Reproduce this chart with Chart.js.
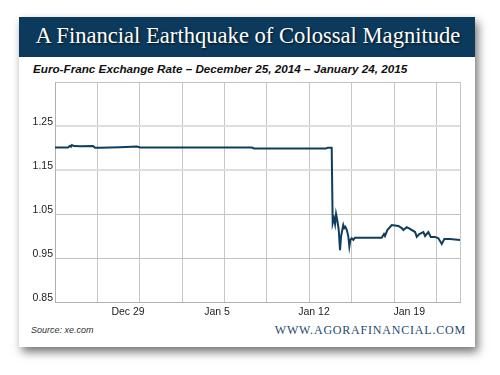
<!DOCTYPE html>
<html>
<head>
<meta charset="utf-8">
<script src="https://cdn.jsdelivr.net/npm/chart.js@4"></script>
<style>
    html, body { margin: 0; padding: 0; background: #fff; }
    #page { position: relative; width: 500px; height: 375px; overflow: hidden; }
    #card {
        position: absolute; left: 19px; top: 17px; width: 456px; height: 330px;
        background: #fff; box-shadow: 3px 5px 9px rgba(0, 0, 0, 0.55);
    }
    #banner {
        position: absolute; left: 0; top: 0; width: 456px; height: 40px; background: #0c3a5c;
    }
    #title {
        position: absolute; left: 1px; width: 456px; top: 8.2px; text-align: center;
        font: 22.6px/22px 'Liberation Serif', serif; color: #fff;
        text-shadow: 1px 1px 2px rgba(0, 0, 0, 0.7);
    }
    #subtitle {
        position: absolute; left: 14px; top: 46px; white-space: nowrap;
        font: italic bold 11.7px/12px 'Liberation Sans', sans-serif; color: #111;
    }
    #source {
        position: absolute; left: 12px; top: 307.5px; white-space: nowrap;
        font: italic 9px/10px 'Liberation Sans', sans-serif; color: #333;
    }
    #site {
        position: absolute; right: 9px; top: 306.5px; white-space: nowrap;
        font: 12px/12px 'Liberation Serif', serif; letter-spacing: 0.8px; color: #1b4a70;
    }
    #chart { position: absolute; left: 0; top: 0; }
</style>
</head>
<body>
<div id="page">
    <div id="card">
        <div id="banner"></div>
        <div id="title">A Financial Earthquake of Colossal Magnitude</div>
        <div id="subtitle">Euro-Franc Exchange Rate – December 25, 2014 – January 24, 2015</div>
        <div id="source">Source: xe.com</div>
        <div id="site">WWW.AGORAFINANCIAL.COM</div>
    </div>
    <canvas id="chart" width="500" height="375"></canvas>
</div>
<script>
// days since Dec 25, 2014
const days = [
    0, 0.92, 1.06, 1.13, 1.2, 1.34, 1.77, 2.69, 2.83, 3.18, 4.6, 5.8, 6.02, 8.85,
    13.94, 14.08, 19.18, 19.32, 19.58,
    19.65, 19.74, 19.82, 19.89, 19.98, 20.08, 20.17, 20.24, 20.33, 20.4, 20.47, 20.55,
    20.65, 20.76, 20.83, 20.9, 21.0, 21.11, 21.23,
    23.12, 23.28, 23.35, 23.52, 23.83, 24.3, 24.54, 24.65, 24.89, 25.12, 25.48, 25.6,
    25.78, 26.07, 26.19, 26.42, 26.59, 26.89, 27.13, 27.37, 27.55, 27.95, 28.66
];
const eurChf = [
    1.2011, 1.2011, 1.205, 1.203, 1.2068, 1.2045, 1.204, 1.2045, 1.2005, 1.2005, 1.2018, 1.2035, 1.2011, 1.2011,
    1.2011, 1.199, 1.199, 1.2008, 1.2008,
    1.029, 1.040, 1.027, 1.050, 1.035, 1.0136, 0.968, 0.998, 1.0136, 1.025, 1.018, 1.021,
    1.0136, 0.998, 0.976, 0.991, 0.995, 0.991, 0.996,
    0.996, 1.0045, 1.000, 1.0136, 1.025, 1.0227, 1.018, 1.0136, 1.020, 1.016, 1.009, 0.998,
    1.0045, 1.009, 1.000, 1.009, 0.998, 0.998, 0.995, 0.982, 0.993, 0.993, 0.991
];

const xGridDays = [0, 3, 6, 9, 12, 15, 18, 21, 24, 27, 28.66];
const xLabelDays = [5.17, 11.47, 18.33, 25.07];
const xLabels = ['Dec 29', 'Jan 5', 'Jan 12', 'Jan 19'];
const yTicks = [0.85, 0.95, 1.05, 1.15, 1.25, 1.35];

new Chart(
    document.getElementById('chart'),
    {
        type: 'line',
        data: {
            datasets: [
                {
                    data: days.map((d, i) => ({ x: d, y: eurChf[i] })),
                    borderColor: '#0f3d5e',
                    borderWidth: 2,
                    pointRadius: 0,
                    tension: 0
                }
            ]
        },
        options: {
            responsive: false,
            devicePixelRatio: 1,
            animation: false,
            layout: {
                padding: { left: 15, top: 82, right: 40, bottom: 53 }
            },
            plugins: {
                legend: { display: false },
                tooltip: { enabled: false }
            },
            scales: {
                x: {
                    type: 'linear',
                    min: 0,
                    max: 28.66,
                    afterBuildTicks: (scale) => {
                        scale.ticks = xGridDays.concat(xLabelDays).map(v => ({ value: v }));
                    },
                    afterFit: (scale) => { scale.height = 20; },
                    grid: {
                        drawTicks: false,
                        color: (ctx) => xLabelDays.includes(ctx.tick.value) ? 'rgba(0,0,0,0)' : '#c6c6c6'
                    },
                    border: { color: '#b0b0b0' },
                    ticks: {
                        autoSkip: false,
                        maxRotation: 0,
                        padding: 4,
                        color: '#222',
                        font: { family: 'Liberation Sans', size: 10.5 },
                        callback: (value) => {
                            const i = xLabelDays.indexOf(value);
                            return i >= 0 ? xLabels[i] : '';
                        }
                    }
                },
                y: {
                    min: 0.85,
                    max: 1.35,
                    afterBuildTicks: (scale) => {
                        scale.ticks = yTicks.map(v => ({ value: v }));
                    },
                    afterFit: (scale) => { scale.width = 40; },
                    grid: {
                        drawTicks: false,
                        color: (ctx) => ctx.tick.value > 1.1 && ctx.tick.value < 1.3 ? '#dedede' : '#c0c0c0',
                        lineWidth: (ctx) => ctx.tick.value > 1.1 && ctx.tick.value < 1.3 ? 2 : 1
                    },
                    border: { color: '#b0b0b0' },
                    ticks: {
                        padding: 2,
                        labelOffset: -4,
                        color: '#222',
                        font: { family: 'Liberation Sans', size: 10.5 },
                        callback: (value) => value > 1.3 ? '' : value.toFixed(2)
                    }
                }
            }
        }
    }
);
</script>
</body>
</html>
